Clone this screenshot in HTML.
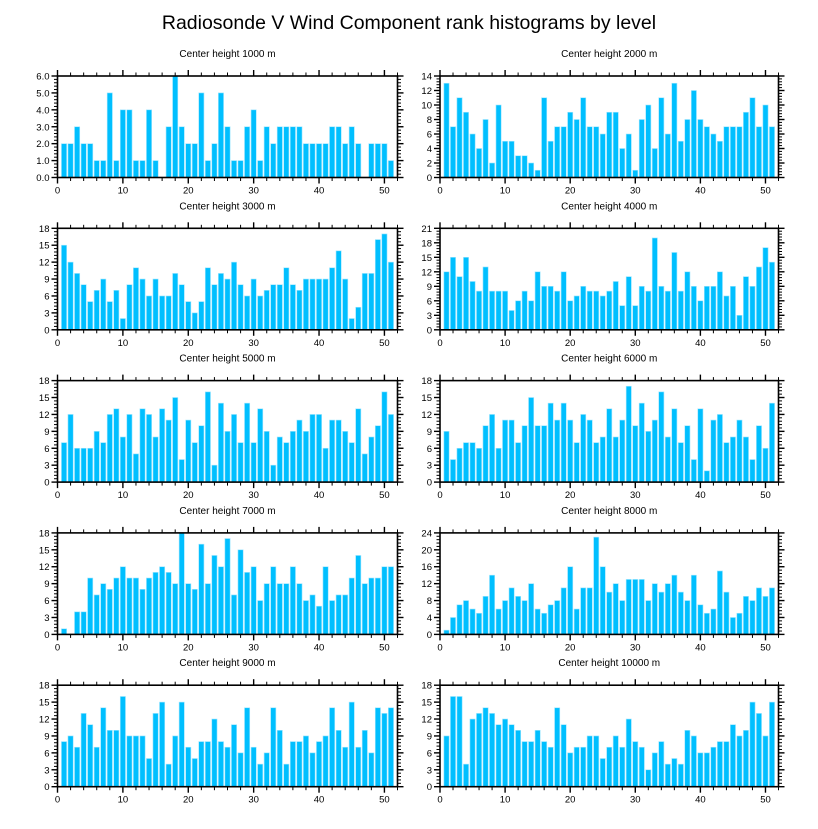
<!DOCTYPE html>
<html><head><meta charset="utf-8"><style>
body{margin:0;background:#fff;width:818px;height:824px;overflow:hidden;font-family:"Liberation Sans",sans-serif}
svg text{font-family:"Liberation Sans",sans-serif}
</style></head><body>
<svg id="chart" width="818" height="824" viewBox="0 0 818 824">
<text x="409" y="29" font-size="19.5" text-anchor="middle">Radiosonde V Wind Component rank histograms by level</text>
</svg>
<script>
const categories = [1,2,3,4,5,6,7,8,9,10,11,12,13,14,15,16,17,18,19,20,21,22,23,24,25,26,27,28,29,30,31,32,33,34,35,36,37,38,39,40,41,42,43,44,45,46,47,48,49,50,51];
const xTickLabels = [0,10,20,30,40,50];
const levelNames = ["1000","2000","3000","4000","5000","6000","7000","8000","9000","10000"];
const v1000 = [2,2,3,2,2,1,1,5,1,4,4,1,1,4,1,0,3,6,3,2,2,5,1,2,5,3,1,1,3,4,1,3,2,3,3,3,3,2,2,2,2,3,3,2,3,2,0,2,2,2,1];
const v2000 = [13,7,11,9,6,4,8,2,10,5,5,3,3,2,1,11,5,7,7,9,8,11,7,7,6,9,9,4,6,1,8,10,4,11,6,13,5,8,12,8,7,6,5,7,7,7,9,11,7,10,7];
const v3000 = [15,12,10,8,5,7,9,5,7,2,8,11,9,6,9,6,6,10,8,5,3,5,11,8,10,9,12,8,6,9,6,7,8,8,11,8,7,9,9,9,9,11,14,9,2,4,10,10,16,17,12];
const v4000 = [12,15,11,15,10,8,13,8,8,8,4,6,8,6,12,9,9,8,12,6,7,9,8,8,7,8,10,5,11,5,9,8,19,9,8,16,8,12,9,6,9,9,12,7,9,3,11,9,13,17,14];
const v5000 = [7,12,6,6,6,9,7,12,13,8,12,5,13,12,8,13,11,15,4,11,7,10,16,3,14,9,12,7,14,7,13,9,3,8,7,9,11,9,12,12,6,11,11,9,7,13,5,8,10,16,12];
const v6000 = [9,4,6,7,7,6,10,12,6,11,11,7,10,15,10,10,14,11,14,11,7,12,11,7,8,13,8,11,17,10,14,9,11,16,8,13,7,10,4,13,2,11,12,7,8,11,8,4,10,6,14];
const v7000 = [1,0,4,4,10,7,9,8,10,12,10,10,8,10,11,12,11,9,18,9,8,16,9,14,12,17,7,15,11,12,6,9,12,9,9,12,9,6,7,5,12,6,7,7,10,14,9,10,10,12,12];
const v8000 = [1,4,7,8,6,5,9,14,6,8,11,9,8,12,6,5,7,8,11,16,6,11,11,23,16,10,12,8,13,13,13,8,12,10,12,14,10,8,14,7,5,6,15,10,4,5,9,8,11,9,11];
const v9000 = [8,9,7,13,11,7,14,10,10,16,9,9,9,5,13,15,4,9,15,7,5,8,8,12,8,7,11,6,14,7,4,6,14,10,4,8,8,9,6,8,9,14,10,7,15,7,10,6,14,13,14];
const v10000 = [9,16,16,4,12,13,14,13,11,12,11,10,8,8,10,8,7,14,11,6,7,7,9,9,5,7,9,7,12,8,7,3,6,8,4,5,4,10,9,6,6,7,8,8,11,9,10,15,13,9,15];
const yTicks1000 = ["0.0","1.0","2.0","3.0","4.0","5.0","6.0"];
const yTicks2000 = ["0","2","4","6","8","10","12","14"];
const yTicks3000 = ["0","3","6","9","12","15","18"];
const yTicks4000 = ["0","3","6","9","12","15","18","21"];
const yTicks5000 = ["0","3","6","9","12","15","18"];
const yTicks6000 = ["0","3","6","9","12","15","18"];
const yTicks7000 = ["0","3","6","9","12","15","18"];
const yTicks8000 = ["0","4","8","12","16","20","24"];
const yTicks9000 = ["0","3","6","9","12","15","18"];
const yTicks10000 = ["0","3","6","9","12","15","18"];

const series=[v1000,v2000,v3000,v4000,v5000,v6000,v7000,v8000,v9000,v10000];
const yticks=[yTicks1000,yTicks2000,yTicks3000,yTicks4000,yTicks5000,yTicks6000,yTicks7000,yTicks8000,yTicks9000,yTicks10000];
const svg=document.getElementById('chart');
const NS='http://www.w3.org/2000/svg';
function mk(tag,attrs,parent){const e=document.createElementNS(NS,tag);for(const k in attrs)e.setAttribute(k,attrs[k]);parent.appendChild(e);return e;}
const XMAX=52;
for(let p=0;p<10;p++){
  const col=p%2,row=Math.floor(p/2);
  const L=col?440:57.5, R=col?778.5:397.5;
  const T=76+row*152.3, B=T+101.5;
  const g=mk('g',{},svg);
  
  
  const xs=v=>L+(v/XMAX)*(R-L);
  const ticks=yticks[p];
  const ymax=parseFloat(ticks[ticks.length-1]);
  const ystep=parseFloat(ticks[1]);
  const ys=v=>B-(v/ymax)*(B-T);
  const t=mk('text',{x:(L+R)/2,y:T-19,'font-size':'10','text-anchor':'middle'},g);
  t.textContent='Center height '+levelNames[p]+' m';
  
  
  const vals=series[p];
  const bw=0.8*(R-L)/XMAX;
  categories.forEach((c,i)=>{
    const v=vals[i]; if(!v) return;
    const r=mk('rect',{x:xs(c)-bw/2,y:ys(v),width:bw,height:B-ys(v),fill:'#00BFFF',stroke:'#9fe6ff','stroke-width':'0.6'},g);
    
    
  });
  const fr=mk('rect',{x:L,y:T,width:R-L,height:B-T,fill:'none',stroke:'#000','stroke-width':'1.6'},g);
  
  
  // x ticks
  for(let v=0;v<=XMAX;v+=2){
    const major=v%10===0, len=major?6:3.5;
    mk('line',{x1:xs(v),x2:xs(v),y1:B,y2:B+len,stroke:'#000','stroke-width':major?1.4:1},g);
    mk('line',{x1:xs(v),x2:xs(v),y1:T,y2:T-len,stroke:'#000','stroke-width':major?1.4:1},g);
  }
  xTickLabels.forEach(v=>{
    const tx=mk('text',{x:xs(v),y:B+16,'font-size':'9.5','text-anchor':'middle'},g);
    tx.textContent=v;
    
    
  });
  // y ticks
  const minor=ystep/5;
  for(let k=0;k<=Math.round(ymax/minor);k++){
    const v=k*minor, major=k%5===0, len=major?6:3.5;
    mk('line',{x1:L,x2:L-len,y1:ys(v),y2:ys(v),stroke:'#000','stroke-width':major?1.4:1},g);
    mk('line',{x1:R,x2:R+len,y1:ys(v),y2:ys(v),stroke:'#000','stroke-width':major?1.4:1},g);
  }
  ticks.forEach(s=>{
    const ty=mk('text',{x:L-8,y:ys(parseFloat(s))+3.5,'font-size':'9.5','text-anchor':'end'},g);
    ty.textContent=s;
    
    
  });
}
</script>
</body></html>
